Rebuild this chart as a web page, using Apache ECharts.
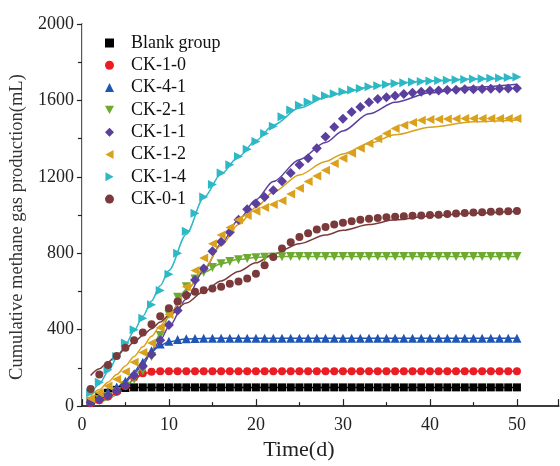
<!DOCTYPE html>
<html>
<head>
<meta charset="utf-8">
<script src="https://cdn.jsdelivr.net/npm/echarts@6/dist/echarts.min.js"></script>
<style>
html,body{margin:0;padding:0;background:#fff}
#chart{width:560px;height:466px}
</style>
</head>
<body>
<div id="chart"></div>
<script>
// measured points, day 1..50
const days = [1,2,3,4,5,6,7,8,9,10,11,12,13,14,15,16,17,18,19,20,21,22,23,24,25,
  26,27,28,29,30,31,32,33,34,35,36,37,38,39,40,41,42,43,44,45,46,47,48,49,50];

const blankGroup = [25,50,70,85,95,98,98,98,98,98,98,98,98,98,98,98,98,98,98,98,98,98,98,98,98,
  98,98,98,98,98,98,98,98,98,98,98,98,98,98,98,98,98,98,98,98,98,98,98,98,98];
const ck10 = [15,30,50,75,105,150,172,180,182,183,183,183,183,183,183,183,183,183,183,183,183,183,183,183,183,
  183,183,183,183,183,183,183,183,183,183,183,183,183,183,183,183,183,183,183,183,183,183,183,183,183];
const ck41 = [25,50,75,100,130,170,230,290,325,340,348,352,354,355,355,355,355,355,355,355,355,355,355,355,355,
  355,355,355,355,355,355,355,355,355,355,355,355,355,355,355,355,355,355,355,355,355,355,355,355,355];
const ck21 = [25,35,50,75,105,140,185,260,370,480,570,625,665,700,725,745,757,766,772,776,779,781,782,783,783,
  783,783,783,783,783,783,783,783,783,783,783,783,783,783,783,783,783,783,783,783,783,783,783,783,783];
const ck11 = [20,35,55,80,110,160,210,270,345,425,500,580,660,720,810,860,910,975,1030,1060,1095,1130,1177,1220,1263,
  1297,1350,1410,1461,1504,1539,1565,1590,1607,1617,1625,1633,1640,1645,1650,1652,1654,1656,1658,1659,1660,1661,1662,1663,1664];
const ck12 = [40,70,105,140,180,230,280,330,410,480,550,625,710,775,850,895,935,975,998,1020,1040,1055,1075,1110,1140,
  1175,1205,1235,1270,1297,1323,1349,1375,1400,1427,1453,1470,1484,1496,1500,1502,1503,1504,1505,1505,1505,1505,1506,1506,1506];
const ck14 = [70,125,190,260,330,400,460,530,605,690,800,915,1010,1095,1160,1220,1263,1306,1345,1385,1427,1465,1515,1550,1575,
  1592,1610,1625,1635,1646,1655,1663,1671,1677,1683,1688,1692,1696,1699,1702,1704,1706,1708,1710,1712,1714,1716,1718,1720,1723];
const ck01 = [90,165,215,262,305,345,385,428,470,512,548,580,598,607,616,625,640,652,668,693,737,780,825,858,885,
  905,925,938,950,960,968,975,980,985,988,991,994,996,998,1000,1002,1005,1008,1011,1013,1015,1017,1018,1020,1021];

// fitted curves
const fitDays = [1,2,3,4,5,6,7,8,9,10,12,14,16,18,20,22,25,28,30,33,36,40,45,50];
const fitBlank = [30,55,75,88,95,97,98,98,98,98,98,98,98,98,98,98,98,98,98,98,98,98,98,98];
const fit10 = [10,25,45,70,100,140,168,178,182,183,183,183,183,183,183,183,183,183,183,183,183,183,183,183];
const fit41 = [15,35,60,95,135,180,235,285,318,337,351,354,355,355,355,355,355,355,355,355,355,355,355,355];
const fit21 = [10,20,35,60,95,145,210,290,380,470,610,700,745,768,778,782,783,783,783,783,783,783,783,783];
const fit11 = [30,45,65,90,125,170,220,280,345,415,560,710,850,975,1080,1175,1290,1380,1440,1530,1590,1640,1670,1685];
const fit12 = [55,85,125,165,210,260,310,365,420,475,600,720,840,950,1040,1120,1210,1280,1320,1375,1420,1460,1488,1497];
const fit14 = [60,115,180,250,320,395,470,550,630,710,900,1090,1215,1305,1390,1470,1560,1615,1640,1670,1690,1703,1712,1716];
const fit01 = [160,195,230,265,300,335,370,405,440,475,540,600,655,705,750,795,850,895,920,950,975,995,1010,1020];

const names = ['Blank group','CK-1-0','CK-4-1','CK-2-1','CK-1-1','CK-1-2','CK-1-4','CK-0-1'];
const points = [blankGroup, ck10, ck41, ck21, ck11, ck12, ck14, ck01];
const fits = [fitBlank, fit10, fit41, fit21, fit11, fit12, fit14, fit01];
const colors = ['#000000','#ec1c24','#1f55b4','#6cab30','#5b3f9e','#d9a11c','#2cb8c4','#7a3a3c'];
const triDown = 'path://M0,0 L10,0 L5,9 Z';
const triLeft = 'path://M9,0 L9,10 L0,5 Z';
const triRight = 'path://M0,0 L9,5 L0,10 Z';
const symbols = ['rect','circle','triangle',triDown,'diamond',triLeft,triRight,'circle'];
const sizes = [8,8,9,9,10,9,9,8];

function pairs(xs, ys){
    return xs.map((x, i) => [x, ys[i]]);
}

const font = 'Liberation Serif';
let series = [];
for (let i = 0; i < names.length; i++) {
    series.push({
        name: names[i] + ' fit',
        type: 'line',
        data: pairs(fitDays, fits[i]),
        smooth: 0.3,
        smoothMonotone: 'x',
        showSymbol: false,
        lineStyle: {color: colors[i], width: 1.5},
        z: 2,
        silent: true
    });
}
for (let i = 0; i < names.length; i++) {
    series.push({
        name: names[i],
        type: 'scatter',
        data: pairs(days, points[i]),
        symbol: symbols[i],
        symbolSize: sizes[i],
        itemStyle: {color: colors[i], opacity: 1},
        z: 3
    });
}

let myChart = echarts.init(document.getElementById('chart'));
myChart.setOption({
    animation: false,
    backgroundColor: '#fff',
    grid: {left: 80, right: 1.3, top: 24, bottom: 55.3},
    legend: {
        data: names,
        orient: 'vertical',
        left: 100,
        top: 29,
        itemWidth: 9,
        itemHeight: 9,
        itemGap: 4.3,
        textStyle: {fontFamily: font, fontSize: 18, color: '#111', lineHeight: 18, padding: [0, 0, 0, 12]}
    },
    xAxis: [{
        type: 'value',
        min: 0, max: 54.8, interval: 10,
        name: 'Time(d)',
        nameLocation: 'middle',
        nameGap: 32,
        nameTextStyle: {fontFamily: font, fontSize: 22, color: '#222', padding: [0, 43, 0, 0]},
        axisLine: {show: true, lineStyle: {color: '#222', width: 1.5}},
        axisTick: {show: true, inside: true, length: 7, lineStyle: {color: '#222', width: 1.2}},
        minorTick: {show: true, splitNumber: 2, length: 4, lineStyle: {color: '#222', width: 1.2}},
        axisLabel: {fontFamily: font, fontSize: 18, color: '#222', margin: 10, showMaxLabel: false},
        splitLine: {show: false}
    }, {
        type: 'value',
        position: 'top',
        min: 0, max: 54.8,
        axisLine: {show: true, lineStyle: {color: '#333', width: 1.5}},
        axisTick: {show: false},
        axisLabel: {show: false},
        splitLine: {show: false}
    }],
    yAxis: [{
        type: 'value',
        min: 0, max: 2000, interval: 400,
        name: 'Cumulative methane gas production(mL)',
        nameLocation: 'middle',
        nameGap: 52,
        nameTextStyle: {fontFamily: font, fontSize: 18.5, color: '#333', padding: [0, 24, 0, 0]},
        axisLine: {show: true, lineStyle: {color: '#222', width: 1.5}},
        axisTick: {show: true, inside: false, length: 5, lineStyle: {color: '#222', width: 1.2}},
        minorTick: {show: true, splitNumber: 2, length: 4, lineStyle: {color: '#222', width: 1.2}},
        axisLabel: {fontFamily: font, fontSize: 18, color: '#222', margin: 8, formatter: v => String(v)},
        splitLine: {show: false}
    }, {
        type: 'value',
        position: 'right',
        min: 0, max: 2000,
        axisLine: {show: true, lineStyle: {color: '#ddd', width: 1}},
        axisTick: {show: false},
        axisLabel: {show: false},
        splitLine: {show: false}
    }],
    series: series
});
</script>
</body>
</html>
